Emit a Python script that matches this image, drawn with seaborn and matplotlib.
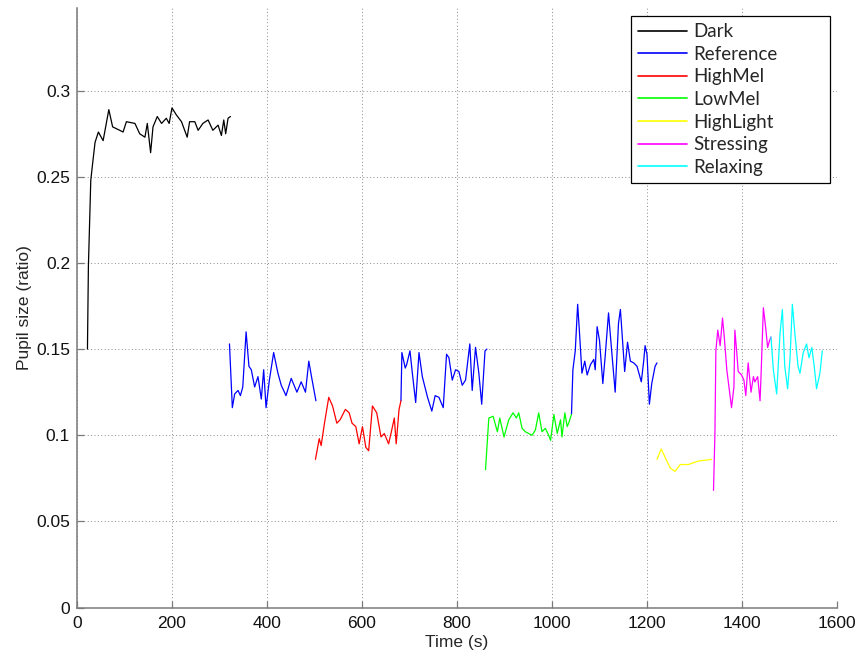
import numpy as np
import pandas as pd
import matplotlib
matplotlib.use("Agg")
import matplotlib.pyplot as plt
import seaborn as sns

# ---------------- data ----------------
dark_t = [22, 24, 29, 33, 38, 45, 55, 67, 75, 90, 97, 104, 122, 132, 143, 148, 155, 160,
          169, 178, 188, 194, 200, 209, 220, 232, 237, 248, 255, 265, 276, 286, 297, 304,
          309, 313, 318, 323]
dark_y = [0.150, 0.198, 0.248, 0.258, 0.270, 0.276, 0.271, 0.289, 0.279, 0.277, 0.276,
          0.282, 0.281, 0.275, 0.273, 0.281, 0.264, 0.279, 0.285, 0.281, 0.284, 0.281,
          0.290, 0.286, 0.282, 0.273, 0.282, 0.282, 0.277, 0.281, 0.283, 0.277, 0.280,
          0.274, 0.283, 0.275, 0.284, 0.285]

ref1_t = [321, 327, 332, 339, 344, 349, 356, 362, 367, 374, 381, 388, 393, 398, 405, 414,
          423, 430, 440, 451, 463, 472, 481, 488, 495, 503]
ref1_y = [0.153, 0.116, 0.124, 0.126, 0.123, 0.128, 0.160, 0.140, 0.138, 0.128, 0.134,
          0.121, 0.138, 0.116, 0.132, 0.148, 0.136, 0.129, 0.123, 0.133, 0.125, 0.131,
          0.125, 0.143, 0.132, 0.120]

highmel_t = [502, 510, 514, 521, 530, 538, 547, 554, 565, 573, 579, 587, 594, 601, 608,
             614, 622, 631, 640, 647, 656, 661, 668, 672, 678, 682]
highmel_y = [0.086, 0.098, 0.094, 0.107, 0.122, 0.117, 0.107, 0.109, 0.115, 0.113, 0.107,
             0.105, 0.095, 0.105, 0.093, 0.091, 0.117, 0.113, 0.099, 0.101, 0.095, 0.101,
             0.110, 0.095, 0.115, 0.120]

ref2_t = [682, 684, 691, 694, 701, 706, 713, 720, 727, 738, 747, 754, 762, 771, 778, 783,
          790, 797, 804, 811, 818, 827, 832, 839, 846, 852, 859, 863]
ref2_y = [0.120, 0.148, 0.139, 0.141, 0.149, 0.136, 0.119, 0.148, 0.134, 0.122, 0.114,
          0.123, 0.122, 0.116, 0.147, 0.145, 0.132, 0.138, 0.137, 0.129, 0.132, 0.153,
          0.126, 0.151, 0.136, 0.118, 0.149, 0.150]

lowmel_t = [860, 867, 876, 885, 890, 899, 909, 918, 925, 930, 937, 944, 958, 965, 972,
            979, 986, 993, 997, 1004, 1011, 1018, 1021, 1027, 1032, 1035, 1041]
lowmel_y = [0.080, 0.110, 0.111, 0.102, 0.110, 0.099, 0.109, 0.113, 0.110, 0.113, 0.104,
            0.102, 0.100, 0.103, 0.113, 0.102, 0.104, 0.100, 0.097, 0.112, 0.101, 0.109,
            0.099, 0.113, 0.105, 0.107, 0.112]

ref3_t = [1041, 1044, 1049, 1054, 1058, 1063, 1069, 1074, 1081, 1088, 1091, 1095, 1100,
          1107, 1112, 1119, 1125, 1133, 1140, 1144, 1149, 1153, 1159, 1165, 1172, 1179,
          1188, 1193, 1196, 1200, 1205, 1210, 1217, 1221]
ref3_y = [0.112, 0.138, 0.149, 0.176, 0.159, 0.136, 0.143, 0.135, 0.141, 0.144, 0.138,
          0.163, 0.155, 0.130, 0.146, 0.171, 0.151, 0.125, 0.165, 0.173, 0.153, 0.137,
          0.154, 0.143, 0.142, 0.140, 0.131, 0.143, 0.152, 0.147, 0.118, 0.130, 0.140,
          0.142]

highlight_t = [1221, 1230, 1240, 1249, 1259, 1270, 1287, 1308, 1336]
highlight_y = [0.086, 0.092, 0.086, 0.081, 0.079, 0.083, 0.083, 0.085, 0.086]

stress_t = [1340, 1343, 1345, 1349, 1354, 1359, 1363, 1368, 1373, 1378, 1383, 1385, 1389,
            1392, 1399, 1404, 1408, 1413, 1419, 1424, 1427, 1433, 1438, 1440, 1445, 1450,
            1454, 1458, 1461]
stress_y = [0.068, 0.101, 0.149, 0.161, 0.152, 0.168, 0.156, 0.138, 0.127, 0.116, 0.128,
            0.161, 0.148, 0.137, 0.135, 0.132, 0.123, 0.142, 0.125, 0.134, 0.131, 0.134,
            0.120, 0.134, 0.174, 0.162, 0.151, 0.155, 0.157]

relax_t = [1461, 1466, 1473, 1480, 1485, 1490, 1496, 1501, 1506, 1512, 1518, 1522, 1529,
           1536, 1541, 1547, 1552, 1557, 1564, 1569]
relax_y = [0.157, 0.138, 0.124, 0.159, 0.173, 0.140, 0.127, 0.144, 0.176, 0.157, 0.140,
           0.136, 0.148, 0.153, 0.145, 0.151, 0.140, 0.127, 0.136, 0.149]

conditions = ["Dark", "Reference", "HighMel", "LowMel", "HighLight", "Stressing", "Relaxing"]
colors = ["#000000", "#0000ff", "#ff0000", "#00ff00", "#ffff00", "#ff00ff", "#00ffff"]

segments = [
    ("Dark", "dark", dark_t, dark_y),
    ("Reference", "ref1", ref1_t, ref1_y),
    ("HighMel", "highmel", highmel_t, highmel_y),
    ("Reference", "ref2", ref2_t, ref2_y),
    ("LowMel", "lowmel", lowmel_t, lowmel_y),
    ("Reference", "ref3", ref3_t, ref3_y),
    ("HighLight", "highlight", highlight_t, highlight_y),
    ("Stressing", "stress", stress_t, stress_y),
    ("Relaxing", "relax", relax_t, relax_y),
]

rows = []
for cond, seg, ts, ys in segments:
    for t, y in zip(ts, ys):
        rows.append({"Time": t, "Pupil": y, "Condition": cond, "Segment": seg})
df = pd.DataFrame(rows)

# ---------------- plot ----------------
sns.set_theme(style="white")
plt.rcParams["font.family"] = ["Liberation Sans", "DejaVu Sans"]

fig = plt.figure(figsize=(8.58, 6.57), dpi=100)
ax = fig.add_axes([77 / 858, 1 - 607.5 / 657, 760 / 858, (607.5 - 8) / 657])

sns.lineplot(data=df, x="Time", y="Pupil", hue="Condition", units="Segment",
             estimator=None, sort=False, hue_order=conditions,
             palette=dict(zip(conditions, colors)), linewidth=0.9, ax=ax)

ax.set_xlim(0, 1600)
ax.set_ylim(0, 0.348)
ax.set_xticks(np.arange(0, 1601, 200))
ax.set_yticks([0, 0.05, 0.1, 0.15, 0.2, 0.25, 0.3])
ax.set_yticklabels(["0", "0.05", "0.1", "0.15", "0.2", "0.25", "0.3"])

ax.grid(True, color="#8a8a8a", linestyle=(0, (1, 2.5)), linewidth=0.7)
ax.set_axisbelow(True)

for s in ["top", "right"]:
    ax.spines[s].set_visible(False)
for s in ["left", "bottom"]:
    ax.spines[s].set_color("#7a7a7a")
    ax.spines[s].set_linewidth(1.1)

ax.tick_params(axis="both", which="both", direction="in", length=5, width=0.9,
               color="#7a7a7a", labelsize=12.5, labelcolor="#111111",
               bottom=True, left=True)
ax.tick_params(axis="x", pad=6)
ax.tick_params(axis="y", pad=5)

ax.set_xlabel("Time (s)", fontsize=12.5, labelpad=3)
ax.set_ylabel("Pupil size (ratio)", fontsize=12.5, labelpad=3)

# legend
leg_x0 = (631 - 77) / 760
leg_x1 = (830 - 77) / 760
leg_y1 = (607.5 - 16) / 599.5
leg_y0 = (607.5 - 183) / 599.5
handles, labels = ax.get_legend_handles_labels()
leg = ax.legend(handles, labels, loc="upper left",
                bbox_to_anchor=(leg_x0, leg_y0, leg_x1 - leg_x0, leg_y1 - leg_y0),
                mode="expand", borderaxespad=0, fancybox=False, framealpha=1,
                edgecolor="black", handlelength=2.6, handletextpad=0.35,
                labelspacing=0.3, borderpad=0.38,
                prop={"family": ["Lato", "DejaVu Sans"], "size": 13.5})
leg.get_frame().set_linewidth(0.9)
for line in leg.get_lines():
    line.set_linewidth(1.2)

fig.savefig("out.png", dpi=100)
